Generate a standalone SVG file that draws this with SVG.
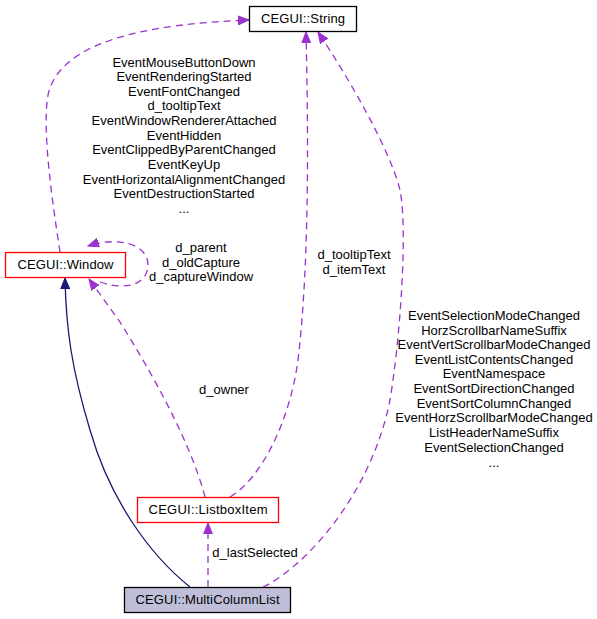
<svg xmlns="http://www.w3.org/2000/svg" width="597" height="619" viewBox="0 0 597 619">
<style>
text{font-family:"Liberation Sans",Arial,sans-serif;font-size:13px;fill:#000;text-anchor:middle}
.node rect{stroke-width:1.3}
.dep{fill:none;stroke:#9a32cd;stroke-width:1.3;stroke-dasharray:7,5}
.inh{fill:none;stroke:#191970;stroke-width:1.3}
</style>
<defs>
<marker id="ap" markerUnits="userSpaceOnUse" markerWidth="12" markerHeight="10" viewBox="0 0 12 10" refX="11" refY="5" orient="auto">
<path d="M0,0.5 L11,5 L0,9.5 Z" fill="#9a32cd" stroke="#9a32cd"/>
</marker>
<marker id="an" markerUnits="userSpaceOnUse" markerWidth="12" markerHeight="10" viewBox="0 0 12 10" refX="11" refY="5" orient="auto">
<path d="M0,0.5 L11,5 L0,9.5 Z" fill="#191970" stroke="#191970"/>
</marker>
</defs>
<rect width="597" height="619" fill="#fff"/>
<g id="connectors">
<path class="inh" d="M190,587 C150,555 110,500 90,430 C72,370 66,330 65,278" marker-end="url(#an)"/>
<path class="dep" d="M60,252 C52,200 42,130 48,95 C60,40 150,24 249,20" marker-end="url(#ap)"/>
<path class="dep" d="M100,282 C130,292 148,282 148,265 C148,244 118,236 88,246" marker-end="url(#ap)"/>
<path class="dep" d="M205,497 C190,440 150,370 120,322 L89,279" marker-end="url(#ap)"/>
<path class="dep" d="M230,497 C262,478 290,420 298,360 C310,260 308,120 306,32" marker-end="url(#ap)"/>
<path class="dep" d="M263,587 C300,570 370,500 390,400 C400,340 408,230 400,190 C390,150 350,80 318,32" marker-end="url(#ap)"/>
<path class="dep" d="M208,587 L208,523" marker-end="url(#ap)"/>
</g>
<g id="labels">
<text x="184" y="67">EventMouseButtonDown</text>
<text x="184" y="81">EventRenderingStarted</text>
<text x="184" y="96">EventFontChanged</text>
<text x="184" y="110">d_tooltipText</text>
<text x="184" y="125">EventWindowRendererAttached</text>
<text x="184" y="140">EventHidden</text>
<text x="184" y="154">EventClippedByParentChanged</text>
<text x="184" y="169">EventKeyUp</text>
<text x="184" y="184">EventHorizontalAlignmentChanged</text>
<text x="184" y="198">EventDestructionStarted</text>
<text x="184" y="213">...</text>
<text x="201" y="252">d_parent</text>
<text x="201" y="267">d_oldCapture</text>
<text x="201" y="281">d_captureWindow</text>
<text x="354" y="259">d_tooltipText</text>
<text x="354" y="274">d_itemText</text>
<text x="224" y="394">d_owner</text>
<text x="255" y="557">d_lastSelected</text>
<text x="494" y="320">EventSelectionModeChanged</text>
<text x="494" y="335">HorzScrollbarNameSuffix</text>
<text x="494" y="349">EventVertScrollbarModeChanged</text>
<text x="494" y="364">EventListContentsChanged</text>
<text x="494" y="378">EventNamespace</text>
<text x="494" y="393">EventSortDirectionChanged</text>
<text x="494" y="408">EventSortColumnChanged</text>
<text x="494" y="422">EventHorzScrollbarModeChanged</text>
<text x="494" y="437">ListHeaderNameSuffix</text>
<text x="494" y="452">EventSelectionChanged</text>
<text x="494" y="467">...</text>
</g>
<g id="node-string" class="node">
<rect x="249.5" y="6.5" width="107" height="25" fill="#fff" stroke="#000"/>
<text x="303" y="23" textLength="84">CEGUI::String</text>
</g>
<g id="node-window" class="node">
<rect x="5.5" y="252.5" width="120" height="25" fill="#fff" stroke="#ff0000"/>
<text x="65.5" y="269" textLength="96">CEGUI::Window</text>
</g>
<g id="node-listboxitem" class="node">
<rect x="137.5" y="497.5" width="141" height="25" fill="#fff" stroke="#ff0000"/>
<text x="208" y="514" textLength="119">CEGUI::ListboxItem</text>
</g>
<g id="node-multicolumnlist" class="node">
<rect x="124.5" y="587.5" width="166" height="25" fill="#bfbfd9" stroke="#000"/>
<text x="207.5" y="604" textLength="144">CEGUI::MultiColumnList</text>
</g>
</svg>
